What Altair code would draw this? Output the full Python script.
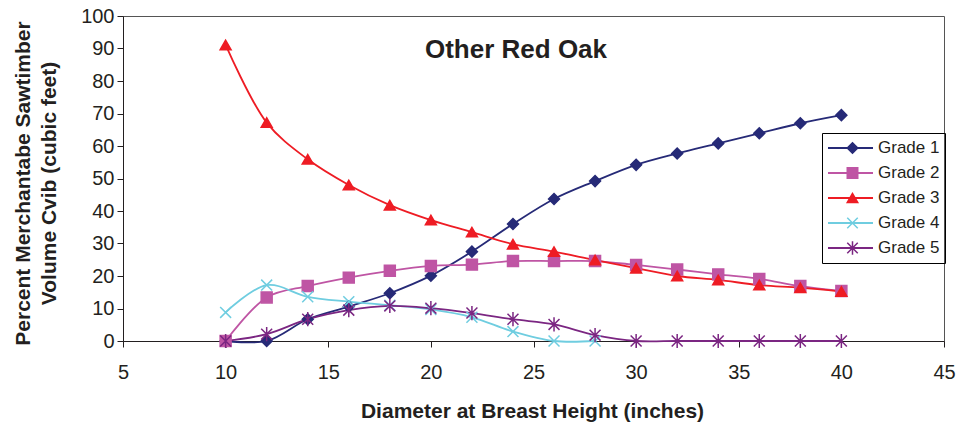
import altair as alt
import pandas as pd

# ---------------- data ----------------
dbh = [10, 12, 14, 16, 18, 20, 22, 24, 26, 28, 30, 32, 34, 36, 38, 40]
dbh_g4 = [10, 12, 14, 16, 18, 20, 22, 24, 26, 28]

grade_names = ["Grade 1", "Grade 2", "Grade 3", "Grade 4", "Grade 5"]
grade1 = [0, 0, 6.7, 10.6, 14.7, 20.1, 27.5, 36.0, 43.7, 49.2, 54.2, 57.7, 60.8, 63.9, 67.0, 69.5]
grade2 = [0, 13.4, 16.9, 19.5, 21.6, 23.1, 23.5, 24.6, 24.6, 24.6, 23.4, 22.0, 20.5, 19.1, 16.9, 15.4]
grade3 = [91.1, 67.2, 55.9, 48.0, 41.8, 37.2, 33.5, 29.8, 27.5, 24.9, 22.4, 20.0, 18.8, 17.2, 16.4, 15.2]
grade4 = [8.8, 17.2, 13.6, 12.1, 11.0, 9.7, 7.3, 2.9, 0, 0]
grade5 = [0, 2.1, 6.7, 9.5, 10.8, 10.1, 8.6, 6.7, 5.1, 1.8, 0, 0, 0, 0, 0, 0]

x_ticks = [5, 10, 15, 20, 25, 30, 35, 40, 45]
y_ticks = [0, 10, 20, 30, 40, 50, 60, 70, 80, 90, 100]

chart_title = "Other Red Oak"
x_title = "Diameter at Breast Height (inches)"
y_title = ["Percent Merchantabe Sawtimber", "Volume Cvib (cubic feet)"]

rows = []
for name, xs, vals in zip(grade_names,
                          [dbh, dbh, dbh, dbh_g4, dbh],
                          [grade1, grade2, grade3, grade4, grade5]):
    for xv, yv in zip(xs, vals):
        rows.append({"dbh": xv, "pct": yv, "series": name, "series_l": name})
df = pd.DataFrame(rows)

# ---------------- styles ----------------
FONT = "Liberation Sans"
TXT = "#231f20"
colors = ["#262a77", "#bf55a4", "#ee1c24", "#6fcde0", "#7b2682"]
shapes = ["diamond", "square", "triangle-up",
          "M-1,-1L1,1M-1,1L1,-1",
          "M-1,-1L1,1M-1,1L1,-1M0,-1.3L0,1.3"]

x_enc = alt.X("dbh:Q",
              scale=alt.Scale(domain=[5, 45], nice=False, zero=False),
              axis=alt.Axis(values=x_ticks, tickCount=9, title=x_title, grid=False,
                            labelOverlap=False, labelFlush=False,
                            tickSize=6, labelPadding=15, labelFontSize=20,
                            titleFontSize=21, titleFontWeight="bold",
                            titleX=409, titleY=76, titleBaseline="alphabetic",
                            titleAnchor="middle", titleAlign="center"))
y_enc = alt.Y("pct:Q",
              scale=alt.Scale(domain=[0, 100], nice=False),
              axis=alt.Axis(values=y_ticks, tickCount=11, title=y_title, grid=False,
                            labelOverlap=False, labelFlush=False,
                            tickSize=6, labelPadding=3, labelFontSize=20,
                            titleFontSize=21, titleFontWeight="bold",
                            titleLineHeight=26, titleX=-90, titleY=167,
                            titleAlign="center", titleBaseline="bottom"))

common_leg = dict(orient="none", legendX=699, legendY=117, padding=5,
                  clipHeight=20, rowPadding=5, labelFontSize=17,
                  labelFont=FONT, labelColor=TXT, title=None)

line_legend = alt.Legend(symbolType="stroke", symbolSize=2025,
                         symbolStrokeWidth=2, labelOffset=4,
                         strokeColor="#000000", **common_leg)
point_legend = alt.Legend(symbolSize=110, symbolStrokeWidth=1.5,
                          symbolOffset=17, labelOffset=38, labelExpr="''",
                          **common_leg)

base = alt.Chart(df)

lines = base.mark_line(interpolate="catmull-rom", strokeWidth=1.8).encode(
    x=x_enc, y=y_enc,
    color=alt.Color("series_l:N", scale=alt.Scale(range=colors), legend=line_legend),
    detail="series:N",
)

points = base.mark_point(filled=True, strokeWidth=1.5, opacity=1).encode(
    x=x_enc, y=y_enc,
    fill=alt.Fill("series:N", scale=alt.Scale(range=colors), legend=point_legend),
    stroke=alt.Stroke("series:N", scale=alt.Scale(range=colors), legend=point_legend),
    shape=alt.Shape("series:N", scale=alt.Scale(range=shapes), legend=point_legend),
    size=alt.value(120),
)

title_txt = alt.Chart(pd.DataFrame({"t": [chart_title]})).mark_text(
    font=FONT, fontSize=26, fontWeight="bold", color=TXT,
    align="center", baseline="alphabetic"
).encode(text="t:N", x=alt.value(393), y=alt.value(42))

chart = alt.layer(lines, points, title_txt).properties(
    width=821, height=325,
    padding={"left": 123, "top": 16, "right": 17, "bottom": 84},
    autosize="none",
).configure_view(
    stroke="#555555", strokeWidth=1
).configure_axis(
    labelFont=FONT, titleFont=FONT, labelColor=TXT, titleColor=TXT,
    domainColor=TXT, tickColor=TXT, domainWidth=1, tickWidth=1,
    labelOverlap=False,
)

chart.save("out.html", embed_options={"renderer": "svg", "actions": False})
